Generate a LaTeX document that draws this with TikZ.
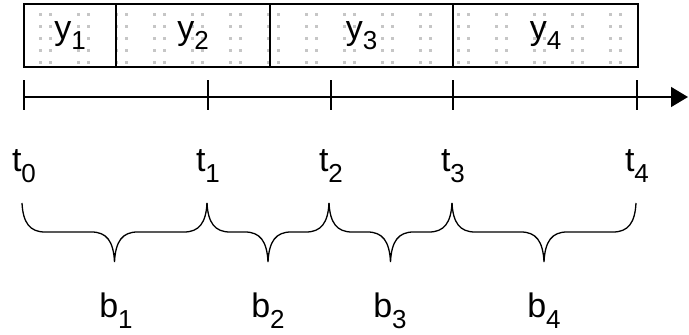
\documentclass[tikz,border=0pt]{standalone}
\usepackage{fontspec}
\setmainfont{Liberation Sans}
\usetikzlibrary{arrows.meta,calc}
\newcommand{\lowidx}[1]{\raisebox{-0.3em}{\fontsize{26}{26}\selectfont #1}}

\begin{document}
\begin{tikzpicture}[x=1pt,y=1pt,
  cell/.style={draw,line width=1.5pt,minimum height=63pt,inner sep=0pt,font=\fontsize{34}{34}\selectfont},
  lbl/.style={anchor=base,inner sep=0pt,font=\fontsize{34}{34}\selectfont},
  tick/.style={line width=1.5pt},
  curly/.style={line width=1.3pt,to path={let \p1=(\tikztostart), \p2=(\tikztotarget), \n1={0.5*\x1+0.5*\x2} in
    .. controls (\x1+1pt,\y1-20pt) and (\x1+8pt,\y1-29pt) .. (\x1+23pt,\y1-29pt)
    -- (\n1-23pt,\y1-29pt)
    .. controls (\n1-8pt,\y1-29pt) and (\n1-1pt,\y1-38pt) .. (\n1,\y1-59pt)
    .. controls (\n1+1pt,\y1-38pt) and (\n1+8pt,\y1-29pt) .. (\n1+23pt,\y1-29pt)
    -- (\x2-23pt,\y1-29pt)
    .. controls (\x2-8pt,\y1-29pt) and (\x2-1pt,\y1-20pt) .. (\tikztotarget)}}]
\useasboundingbox (0,0) rectangle (689,335);

% light dots behind the cells
\foreach \x in {40,78,...,630}
  \draw[gray!45,line width=3pt,dash pattern=on 3pt off 9pt] (\x,271) -- (\x,330) (\x+10,271) -- (\x+10,330);

\node[cell,minimum width=92pt] (y1) at (70,299.5) {y\lowidx{1}};
\node[cell,minimum width=154pt] (y2) at (193,299.5) {y\lowidx{2}};
\node[cell,minimum width=183pt] (y3) at (361.5,299.5) {y\lowidx{3}};
\node[cell,minimum width=185pt] (y4) at (545.5,299.5) {y\lowidx{4}};

% time axis
\coordinate (k0) at (24,238);
\coordinate (k1) at (208,238);
\coordinate (k2) at (331,238);
\coordinate (k3) at (453,238);
\coordinate (k4) at (637,238);
\coordinate (kend) at (688,238);
\draw[line width=1.5pt,-{Triangle[length=17pt,width=20pt]}] (k0) -- (kend);
\draw[tick] ([yshift=-13pt]k0) -- ([yshift=17pt]k0);
\draw[tick] ([yshift=-13pt]k1) -- ([yshift=17pt]k1);
\draw[tick] ([yshift=-13pt]k2) -- ([yshift=17pt]k2);
\draw[tick] ([yshift=-13pt]k3) -- ([yshift=17pt]k3);
\draw[tick] ([yshift=-13pt]k4) -- ([yshift=17pt]k4);

\node[lbl] (t0) at (24,163) {t\lowidx{0}};
\node[lbl] (t1) at (208,163) {t\lowidx{1}};
\node[lbl] (t2) at (331,163) {t\lowidx{2}};
\node[lbl] (t3) at (453,163) {t\lowidx{3}};
\node[lbl] (t4) at (637,163) {t\lowidx{4}};

% braces
\coordinate (s0) at (22,132);
\coordinate (s1) at (207,132);
\coordinate (s2) at (329,132);
\coordinate (s3) at (452,132);
\coordinate (s4) at (636,132);
\draw[curly] (s0) to (s1);
\draw[curly] (s1) to (s2);
\draw[curly] (s2) to (s3);
\draw[curly] (s3) to (s4);

\node[lbl] (b1) at (116,17) {b\lowidx{1}};
\node[lbl] (b2) at (268,17) {b\lowidx{2}};
\node[lbl] (b3) at (390,17) {b\lowidx{3}};
\node[lbl] (b4) at (544,17) {b\lowidx{4}};
\end{tikzpicture}
\end{document}
